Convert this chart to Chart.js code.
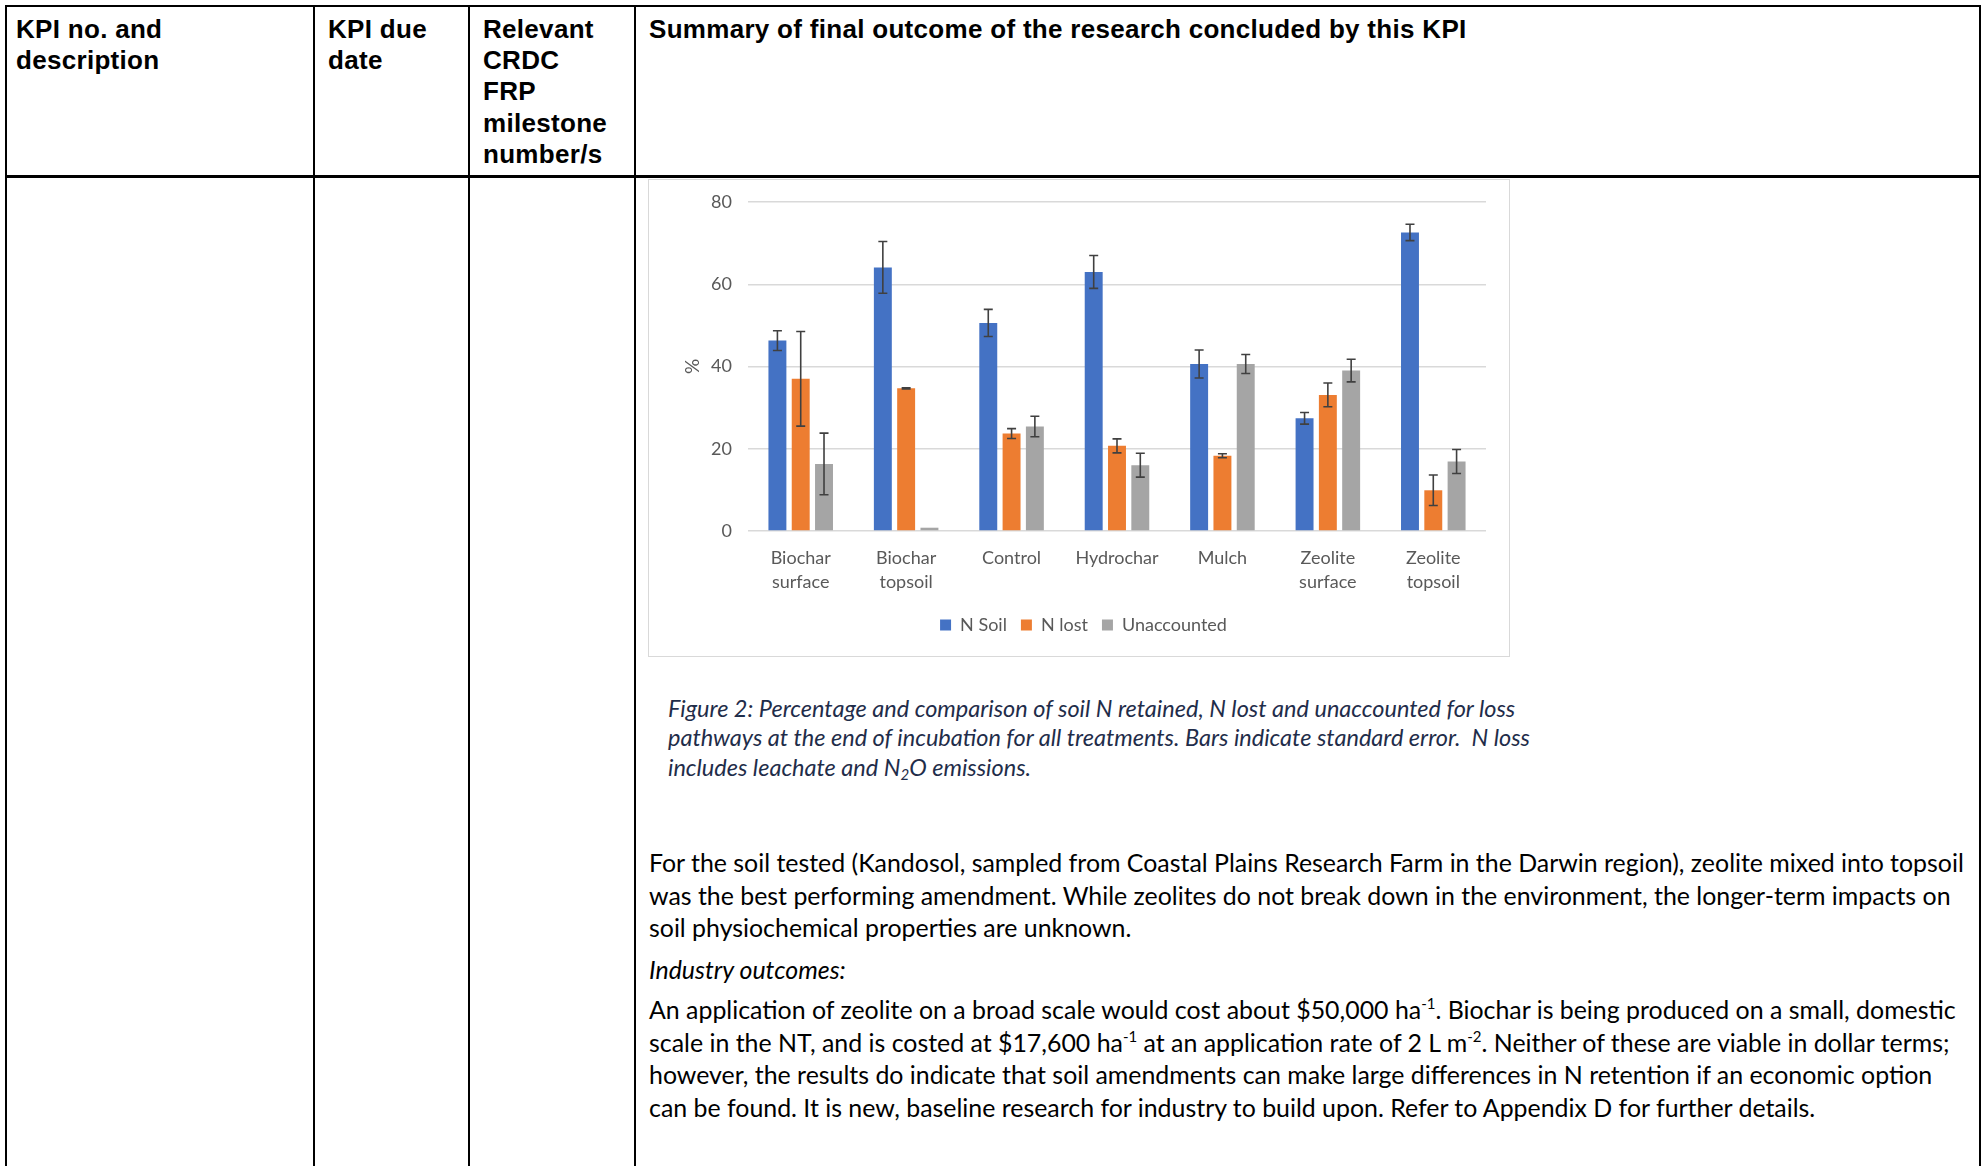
<!DOCTYPE html>
<html>
<head>
<meta charset="utf-8">
<title>KPI summary – soil N retention</title>
<script src="https://cdn.jsdelivr.net/npm/chart.js@4.4.1/dist/chart.umd.min.js"></script>
<style>
  html, body { margin: 0; padding: 0; background: #fff; }
  body { width: 1988px; height: 1166px; position: relative; overflow: hidden; }

  /* report table frame */
  table.kpi {
    position: absolute; left: 5px; top: 5px;
    border-collapse: collapse; table-layout: fixed;
    font-family: "Liberation Sans", Arial, sans-serif;
  }
  table.kpi th, table.kpi td { border: 2px solid #000; vertical-align: top; padding: 0; }
  table.kpi th {
    height: 161px; text-align: left; font-weight: bold;
    font-size: 26px; letter-spacing: 0.3px; line-height: 31.2px; padding: 7px 0 0 13px;
  }
  table.kpi th:first-child { padding-left: 9px; }
  table.kpi tr.head th { border-bottom-width: 3px; }
  table.kpi td { height: 1100px; }

  #chartBox {
    position: absolute; left: 648px; top: 179px;
    width: 860px; height: 476px;
    border: 1px solid #d9d9d9; background: #fff;
  }
  #chartBox canvas { display: block; }

  .caption {
    position: absolute; left: 668px; top: 693.5px;
    font-family: Lato, "Open Sans", sans-serif; font-style: italic;
    font-size: 23.5px; line-height: 29.5px; color: #1f2d4a; white-space: nowrap;
  }
  .body {
    position: absolute; left: 649px;
    font-family: Lato, "Open Sans", sans-serif;
    font-size: 24.9px; line-height: 32.7px; color: #000; white-space: nowrap;
  }
  .body sup { font-size: 15px; line-height: 0; vertical-align: 10px; }
  .caption sub { font-size: 15px; line-height: 0; vertical-align: -4px; }
</style>
</head>
<body>

<table class="kpi">
  <colgroup>
    <col style="width:308px"><col style="width:155px"><col style="width:166px"><col style="width:1345px">
  </colgroup>
  <tr class="head">
    <th>KPI no. and<br>description</th>
    <th>KPI due<br>date</th>
    <th>Relevant<br>CRDC<br>FRP<br>milestone<br>number/s</th>
    <th>Summary of final outcome of the research concluded by this KPI</th>
  </tr>
  <tr><td></td><td></td><td></td><td></td></tr>
</table>

<div id="chartBox"><canvas id="nChart" width="860" height="476"></canvas></div>

<div class="caption">Figure 2: Percentage and comparison of soil N retained, N lost and unaccounted for loss<br>pathways at the end of incubation for all treatments. Bars indicate standard error.&nbsp; N loss<br>includes leachate and N<sub>2</sub>O emissions.</div>

<div class="body" style="top:846px">For the soil tested (Kandosol, sampled from Coastal Plains Research Farm in the Darwin region), zeolite mixed into topsoil<br>was the best performing amendment. While zeolites do not break down in the environment, the longer-term impacts on<br>soil physiochemical properties are unknown.</div>
<div class="body" style="top:953px"><i>Industry outcomes:</i></div>
<div class="body" style="top:993px">An application of zeolite on a broad scale would cost about $50,000 ha<sup>-1</sup>. Biochar is being produced on a small, domestic<br>scale in the NT, and is costed at $17,600 ha<sup>-1</sup> at an application rate of 2 L m<sup>-2</sup>. Neither of these are viable in dollar terms;<br>however, the results do indicate that soil amendments can make large differences in N retention if an economic option<br>can be found. It is new, baseline research for industry to build upon. Refer to Appendix D for further details.</div>

<script>
/* ── Data ── */
const treatments = [['Biochar', 'surface'], ['Biochar', 'topsoil'], 'Control', 'Hydrochar', 'Mulch', ['Zeolite', 'surface'], ['Zeolite', 'topsoil']];

const nSoil       = [46.3, 64.1, 50.6, 63.0, 40.6, 27.4, 72.6];
const nSoilErr    = [2.4, 6.3, 3.3, 4.0, 3.4, 1.4, 2.0];
const nLost       = [37.0, 34.7, 23.7, 20.7, 18.3, 33.1, 9.9];
const nLostErr    = [11.5, 0.15, 1.2, 1.7, 0.5, 2.9, 3.7];
const unaccounted = [16.3, 0.8, 25.4, 16.0, 40.6, 39.0, 16.9];
const unaccErr    = [7.5, 0, 2.5, 2.9, 2.3, 2.75, 2.9];

const yTicks = [0, 20, 40, 60, 80];

const FONT = "Lato, 'Open Sans', sans-serif";

/* ── Error bar plugin: draws ± standard error on each bar ── */
const errorBars = {
  id: 'errorBars',
  afterDatasetsDraw(chart) {
    const ctx = chart.ctx;
    const yScale = chart.scales.y;
    ctx.save();
    ctx.strokeStyle = '#404040';
    ctx.lineWidth = 1.6;
    chart.data.datasets.forEach((ds, di) => {
      const meta = chart.getDatasetMeta(di);
      meta.data.forEach((bar, i) => {
        const err = ds.errors[i];
        if (!err) return;
        const v = ds.data[i];
        const top = yScale.getPixelForValue(v + err);
        const bot = yScale.getPixelForValue(v - err);
        const x = bar.x;
        const cap = 4.5;
        ctx.beginPath();
        ctx.moveTo(x, top); ctx.lineTo(x, bot);
        ctx.moveTo(x - cap, top); ctx.lineTo(x + cap, top);
        ctx.moveTo(x - cap, bot); ctx.lineTo(x + cap, bot);
        ctx.stroke();
      });
    });
    ctx.restore();
  }
};

function series(label, data, errors, color) {
  return {
    label, data, errors,
    backgroundColor: color,
    borderWidth: 0,
    barPercentage: 0.77,
    categoryPercentage: 0.663
  };
}

new Chart(document.getElementById('nChart'), {
  type: 'bar',
  data: {
    labels: treatments,
    datasets: [
      series('N Soil', nSoil, nSoilErr, '#4472C4'),
      series('N lost', nLost, nLostErr, '#ED7D31'),
      series('Unaccounted', unaccounted, unaccErr, '#A5A5A5')
    ]
  },
  options: {
    responsive: false,
    animation: false,
    layout: { padding: { top: 22, left: 32, right: 23, bottom: 12 } },
    plugins: {
      tooltip: { enabled: false },
      legend: {
        position: 'bottom',
        labels: {
          boxWidth: 11, boxHeight: 11, padding: 14,
          color: '#595959',
          font: { family: FONT, size: 18 }
        }
      }
    },
    scales: {
      x: {
        grid: { display: false },
        border: { display: false },
        ticks: {
          color: '#595959', padding: 7, maxRotation: 0,
          font: { family: FONT, size: 18, lineHeight: 1.33 }
        },
        afterFit: s => { s.height = 71; }
      },
      y: {
        min: 0, max: 80,
        afterBuildTicks: s => { s.ticks = yTicks.map(v => ({ value: v })); },
        grid: { color: '#d9d9d9', lineWidth: 1.5, drawTicks: false },
        border: { display: false },
        ticks: {
          color: '#595959', padding: 16,
          font: { family: FONT, size: 18 }
        },
        title: {
          display: true, text: '%', color: '#595959',
          padding: 0,
          font: { family: FONT, size: 19 }
        },
        // pin the axis box so the plot area starts exactly at the layout padding
        afterFit: s => { s.width = 67; s.paddingTop = 0; s.paddingBottom = 0; }
      }
    }
  },
  plugins: [errorBars]
});
</script>
</body>
</html>
